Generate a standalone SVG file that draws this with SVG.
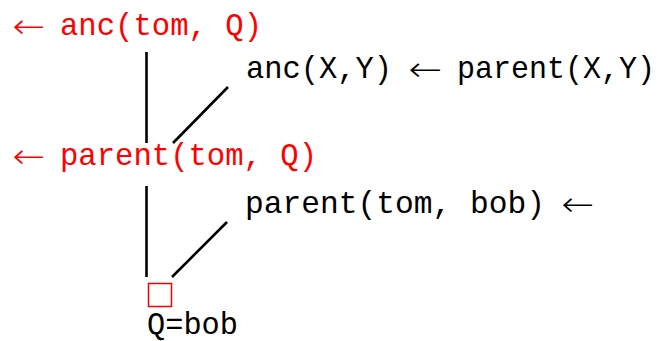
<svg xmlns="http://www.w3.org/2000/svg" width="660" height="341" viewBox="0 0 660 341">
<style>
.tt{font-family:"Liberation Mono","DejaVu Sans Mono",monospace;font-size:30.5px}
.ar{font-family:"DejaVu Sans","DejaVu Serif",sans-serif;font-size:34px;font-weight:200}
.red{fill:#ff0000}
.blk{fill:#000}
.ln{stroke:#000;stroke-width:2.6;fill:none}
</style>
<rect width="660" height="341" fill="#fff"/>
<g id="goal1">
<text class="ar red" x="12" y="38" textLength="33" lengthAdjust="spacingAndGlyphs">←</text>
<text class="tt red" x="60" y="35" textLength="202" lengthAdjust="spacingAndGlyphs">anc(tom, Q)</text>
</g>
<g id="rule1">
<text class="tt blk" x="246" y="78" textLength="146" lengthAdjust="spacingAndGlyphs">anc(X,Y)</text>
<text class="ar blk" x="408" y="81" textLength="34" lengthAdjust="spacingAndGlyphs">←</text>
<text class="tt blk" x="457" y="78" textLength="198" lengthAdjust="spacingAndGlyphs">parent(X,Y)</text>
</g>
<g id="goal2">
<text class="ar red" x="12" y="168" textLength="33" lengthAdjust="spacingAndGlyphs">←</text>
<text class="tt red" x="60" y="165" textLength="257" lengthAdjust="spacingAndGlyphs">parent(tom, Q)</text>
</g>
<g id="fact1">
<text class="tt blk" x="245" y="213" textLength="300" lengthAdjust="spacingAndGlyphs">parent(tom, bob)</text>
<text class="ar blk" x="561" y="216" textLength="33" lengthAdjust="spacingAndGlyphs">←</text>
</g>
<g id="empty">
<rect x="148.5" y="283.5" width="23" height="23" fill="none" stroke="#ff0000" stroke-width="1.5"/>
<text class="tt blk" x="147" y="334" textLength="91" lengthAdjust="spacingAndGlyphs">Q=bob</text>
</g>
<g id="connectors">
<line class="ln" x1="146.5" y1="52" x2="146.5" y2="143"/>
<line class="ln" x1="228" y1="87" x2="173" y2="143"/>
<line class="ln" x1="146.5" y1="186" x2="146.5" y2="277"/>
<line class="ln" x1="227" y1="222" x2="172" y2="277"/>
</g>
</svg>
